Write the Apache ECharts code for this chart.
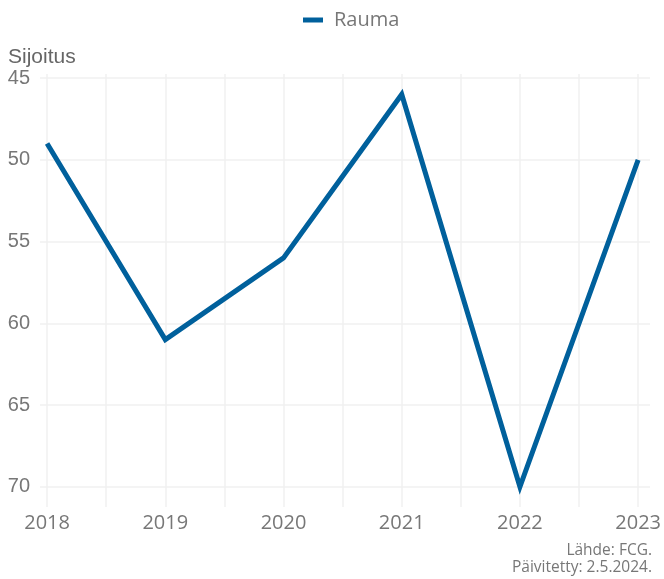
<!DOCTYPE html>
<html>
<head>
<meta charset="utf-8">
<script src="https://cdn.jsdelivr.net/npm/echarts@6/dist/echarts.min.js"></script>
<style>
  html, body { margin: 0; padding: 0; background: #fff; }
  #chart { width: 664px; height: 579px; }
</style>
</head>
<body>
<div id="chart"></div>
<script>
const years = [2018, 2019, 2020, 2021, 2022, 2023]
const rauma = [49, 61, 56, 46, 70, 50]
const seriesName = 'Rauma'
const yTicks = [45, 50, 55, 60, 65, 70]
const xGrid = [2018, 2018.5, 2019, 2019.5, 2020, 2020.5, 2021, 2021.5, 2022, 2022.5, 2023]

const myChart = echarts.init(document.getElementById('chart'))

myChart.setOption({
  animation: false,
  legend: {
    top: 5,
    left: 298,
    itemWidth: 20,
    itemHeight: 5,
    itemGap: 10,
    icon: 'rect',
    textStyle: { color: '#777', fontSize: 20, fontFamily: 'Open Sans', padding: [0, 0, 0, 6] },
    data: [seriesName]
  },
  grid: { left: 40, right: 12, top: 74, bottom: 72 },
  xAxis: {
    type: 'value',
    min: 2017.94,
    max: 2023.1,
    axisLine: { show: false },
    axisTick: { show: false, customValues: xGrid },
    axisLabel: {
      color: '#777',
      fontSize: 20,
      fontFamily: 'Open Sans',
      margin: 6,
      customValues: years,
      formatter: (v) => String(v)
    },
    splitLine: {
      show: true,
      lineStyle: { color: '#f0f0f0', width: 1.5 }
    }
  },
  yAxis: {
    type: 'value',
    inverse: true,
    min: 44.75,
    max: 71.24,
    name: 'Sijoitus',
    nameLocation: 'start',
    nameGap: 4,
    nameTextStyle: { color: '#666', fontSize: 21, fontFamily: 'Liberation Sans', align: 'left', padding: [0, 0, 0, -32] },
    axisLine: { show: false },
    axisTick: { show: false, customValues: yTicks },
    axisLabel: {
      color: '#777',
      fontSize: 20,
      fontFamily: 'Liberation Sans',
      margin: 10,
      customValues: yTicks
    },
    splitLine: {
      show: true,
      lineStyle: { color: '#f0f0f0', width: 1.5 }
    }
  },
  graphic: [
    {
      type: 'text',
      x: 652,
      y: 551,
      style: {
        text: 'Lähde: FCG.',
        align: 'right',
        verticalAlign: 'middle',
        fill: '#777',
        fontSize: 15.5,
        fontFamily: 'Open Sans'
      }
    },
    {
      type: 'text',
      x: 652,
      y: 568,
      style: {
        text: 'Päivitetty: 2.5.2024.',
        align: 'right',
        verticalAlign: 'middle',
        fill: '#777',
        fontSize: 15.5,
        fontFamily: 'Open Sans'
      }
    }
  ],
  series: [
    {
      name: seriesName,
      type: 'line',
      data: years.map((y, i) => [y, rauma[i]]),
      symbol: 'none',
      lineStyle: { color: '#00609c', width: 5, cap: 'butt', join: 'miter' },
      itemStyle: { color: '#00609c' }
    }
  ]
})
</script>
</body>
</html>
